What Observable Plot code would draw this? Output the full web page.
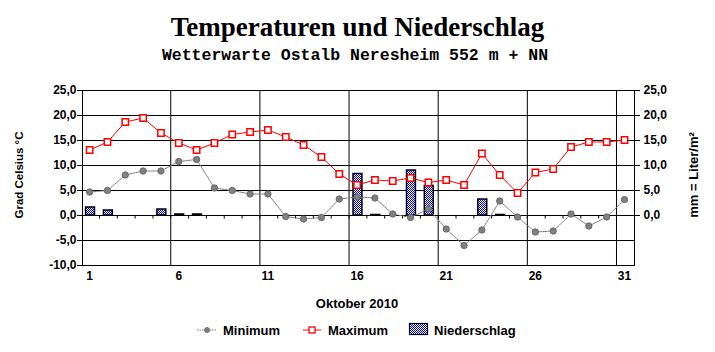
<!DOCTYPE html>
<html>
<head>
<meta charset="utf-8">
<script src="https://cdn.jsdelivr.net/npm/d3@7"></script>
<script src="https://cdn.jsdelivr.net/npm/@observablehq/plot@0.6"></script>
<style>
  html, body { margin: 0; padding: 0; background: #fff; }
  svg { display: block; }
</style>
</head>
<body>
<div id="chart"></div>
<script>
const days = [1,2,3,4,5,6,7,8,9,10,11,12,13,14,15,16,17,18,19,20,21,22,23,24,25,26,27,28,29,30,31];
const tMin = [4.7,5.0,8.1,8.9,8.9,10.8,11.2,5.5,5.0,4.3,4.3,-0.2,-0.7,-0.4,3.3,3.7,3.5,0.3,-0.4,1.3,-2.7,-6.0,-2.9,2.9,-0.3,-3.3,-3.1,0.3,-2.1,-0.3,3.2];
const tMax = [13.1,14.7,18.7,19.5,16.5,14.5,13.1,14.5,16.2,16.7,17.1,15.7,14.1,11.7,8.3,6.1,7.1,6.9,7.5,6.6,7.1,6.1,12.4,8.1,4.5,8.6,9.3,13.7,14.7,14.7,15.1];
const precip = [1.6,1.0,0,0,1.2,0.2,0.2,0,0,0,0,0,0,0,0,8.3,0.1,0,9.0,5.9,0,0,3.2,0.1,0,0,0,0,0,0,0];
const xTickLabels = [1,6,11,16,21,26,31];
const yTicksLeft = [-10,-5,0,5,10,15,20,25];
const yTicksRight = [0,5,10,15,20,25];
const xGrid = [5.55,10.55,15.55,20.55,25.55,30.55];
const minorTicks = days.slice(0,30).map(d => d + 0.55);

const title = "Temperaturen und Niederschlag";
const subtitle = "Wetterwarte Ostalb Neresheim 552 m + NN";
const xTitle = "Oktober 2010";
const yTitleLeft = "Grad Celsius °C";
const yTitleRight = "mm = Liter/m²";
const legendLabels = ["Minimum", "Maximum", "Niederschlag"];

const data = days.map((d, i) => ({day: d, min: tMin[i], max: tMax[i], p: precip[i]}));
const fmt = v => v.toFixed(1).replace(".", ",");
const W = 715, H = 352;

const svg = Plot.plot({
  width: W, height: H,
  marginLeft: 82, marginRight: 81, marginTop: 90, marginBottom: 87,
  style: {fontFamily: "'Liberation Sans', Arial, sans-serif", fontSize: "12px", fontWeight: "bold", color: "black", background: "white"},
  x: {domain: [0.6, 31.56]},
  y: {domain: [-10, 25]},
  marks: [
    Plot.ruleY(yTicksLeft, {stroke: "black", strokeWidth: 1}),
    Plot.ruleX(xGrid, {stroke: "black", strokeWidth: 1}),
    Plot.ruleX(minorTicks, {y1: 0, y2: -0.7, stroke: "black", strokeWidth: 1}),
    Plot.rectY(data.filter(d => d.p > 0), {x1: d => d.day - 0.2, x2: d => d.day + 0.3, y1: 0, y2: "p", fill: "url(#dotpat)", stroke: "black", strokeWidth: 1.5}),
    Plot.line(data, {x: "day", y: "min", stroke: "#7a7a7a", strokeWidth: 1, strokeDasharray: "1.5,1"}),
    Plot.dot(data, {x: "day", y: "min", r: 3.2, fill: "#808080", stroke: "#5e5e5e", strokeWidth: 0.8}),
    Plot.line(data, {x: "day", y: "max", stroke: "red", strokeWidth: 1}),
    Plot.dot(data, {x: "day", y: "max", symbol: "square", r: 3.6, fill: "white", stroke: "red", strokeWidth: 1.5}),
    Plot.frame({stroke: "black", strokeWidth: 1}),
    Plot.axisY({anchor: "left", ticks: yTicksLeft, tickFormat: fmt, tickSize: 5, tickPadding: 1, label: null}),
    Plot.axisY({anchor: "right", ticks: yTicksRight, tickFormat: fmt, tickSize: 5, tickPadding: 4, label: null}),
    Plot.axisX({ticks: xTickLabels, tickFormat: d => String(d), tickSize: 0, tickPadding: 6, label: null})
  ]
});

const s = d3.select(svg);
const defs = s.insert("defs", ":first-child");
const pat = defs.append("pattern").attr("id", "dotpat").attr("patternUnits", "userSpaceOnUse").attr("width", 2).attr("height", 2);
pat.append("rect").attr("width", 2).attr("height", 2).attr("fill", "white");
pat.append("rect").attr("x", 0).attr("y", 0).attr("width", 1).attr("height", 1).attr("fill", "#0000ff");
pat.append("rect").attr("x", 1).attr("y", 1).attr("width", 1).attr("height", 1).attr("fill", "#0000ff");

s.append("text").attr("x", 357.5).attr("y", 36).attr("text-anchor", "middle")
  .style("font-family", "'Liberation Serif', 'Times New Roman', serif").style("font-size", "27px").style("font-weight", "bold").text(title);
s.append("text").attr("x", 355).attr("y", 60).attr("text-anchor", "middle")
  .style("font-family", "'Liberation Mono', 'Courier New', monospace").style("font-size", "16.5px").style("font-weight", "bold").text(subtitle);
s.append("text").attr("x", 357).attr("y", 308).attr("text-anchor", "middle")
  .style("font-size", "13px").style("font-weight", "bold").text(xTitle);
s.append("text").attr("transform", "translate(23,175) rotate(-90)").attr("text-anchor", "middle")
  .style("font-size", "11.5px").style("font-weight", "bold").text(yTitleLeft);
s.append("text").attr("transform", "translate(698,175) rotate(-90)").attr("text-anchor", "middle")
  .style("font-size", "13px").style("font-weight", "bold").text(yTitleRight);

// legend
const ly = 330;
const lg = s.append("g").style("font-size", "13px").style("font-weight", "bold").attr("text-anchor", "start");
lg.append("line").attr("x1", 197).attr("x2", 217).attr("y1", ly).attr("y2", ly).attr("stroke", "#7a7a7a").attr("stroke-dasharray", "1.5,1");
lg.append("circle").attr("cx", 207).attr("cy", ly).attr("r", 2.5).attr("fill", "#808080").attr("stroke", "#5e5e5e").attr("stroke-width", 0.8);
lg.append("text").attr("x", 223).attr("y", ly + 5).attr("text-anchor", "start").text(legendLabels[0]);
lg.append("line").attr("x1", 303).attr("x2", 321).attr("y1", ly).attr("y2", ly).attr("stroke", "red");
lg.append("rect").attr("x", 309).attr("y", ly - 3).attr("width", 6).attr("height", 6).attr("fill", "white").attr("stroke", "red").attr("stroke-width", 1.3);
lg.append("text").attr("x", 328).attr("y", ly + 5).attr("text-anchor", "start").text(legendLabels[1]);
lg.append("rect").attr("x", 409.5).attr("y", 323.5).attr("width", 18).attr("height", 11).attr("fill", "url(#dotpat)").attr("stroke", "black").attr("stroke-width", 1.2);
lg.append("text").attr("x", 434).attr("y", ly + 5).attr("text-anchor", "start").text(legendLabels[2]);

document.getElementById("chart").appendChild(svg);
</script>
</body>
</html>
